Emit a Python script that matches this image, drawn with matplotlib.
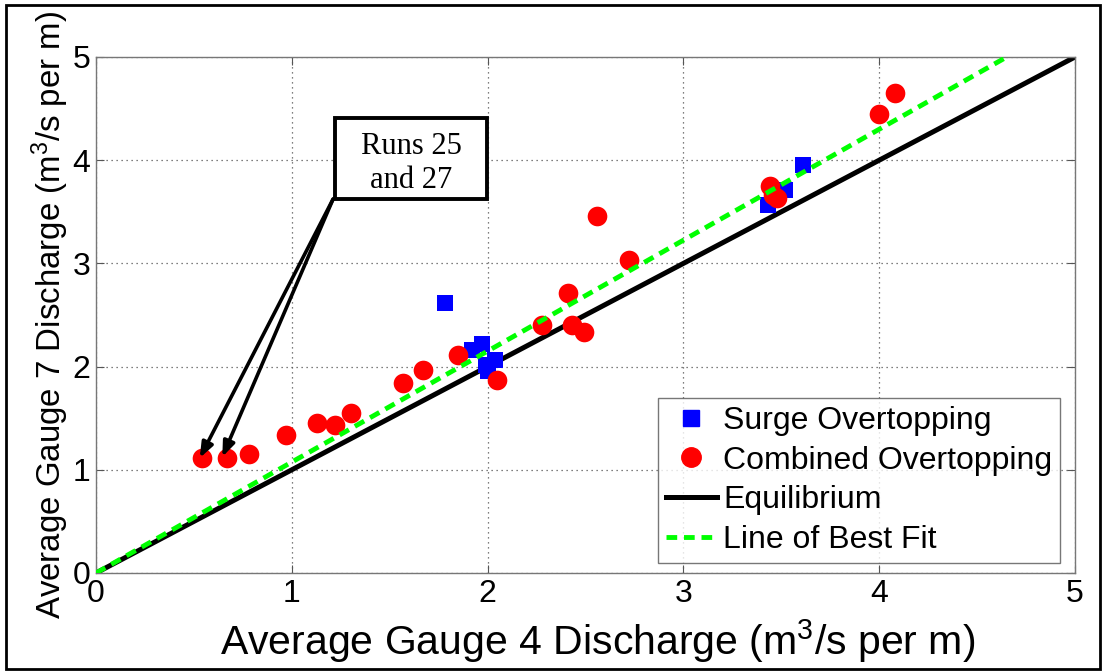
import matplotlib
matplotlib.use("Agg")
import matplotlib.pyplot as plt
from matplotlib.patches import Rectangle
from matplotlib.lines import Line2D

plt.rcParams['font.family'] = ['Liberation Sans', 'DejaVu Sans']
plt.rcParams['mathtext.fontset'] = 'custom'
plt.rcParams['mathtext.rm'] = 'Liberation Sans'
plt.rcParams['mathtext.it'] = 'Liberation Sans'

# Data
surge_x = [1.78, 1.92, 1.97, 2.04, 2.00, 1.99, 3.43, 3.47, 3.52, 3.61]
surge_y = [2.62, 2.16, 2.22, 2.06, 1.96, 2.02, 3.57, 3.63, 3.71, 3.95]
comb_x = [0.54, 0.67, 0.78, 0.97, 1.13, 1.22, 1.30, 1.57, 1.67, 1.85, 2.05,
          2.28, 2.43, 2.49, 2.41, 2.56, 2.72, 3.44, 3.46, 3.48, 4.00, 4.08]
comb_y = [1.11, 1.11, 1.15, 1.34, 1.45, 1.43, 1.55, 1.84, 1.97, 2.11, 1.87,
          2.40, 2.40, 2.34, 2.71, 3.46, 3.03, 3.75, 3.66, 3.63, 4.45, 4.65]
equil_x = [0, 5]
equil_y = [0, 5]
fit_slope = 1.075
fit_x = [0, 5 / fit_slope]
fit_y = [0, 5]
ticks = [0, 1, 2, 3, 4, 5]
annot_text = "Runs 25\nand 27"
annot_targets = [(0.53, 1.115), (0.645, 1.125)]

fig = plt.figure(figsize=(11.04, 6.72), dpi=100)
ax = fig.add_axes([96/1104, 1 - 573/672, (1075-96)/1104, (573-57)/672])

ax.plot(equil_x, equil_y, color='black', lw=3.6, zorder=2, label='Equilibrium')
ax.scatter(surge_x, surge_y, marker='s', s=125, color='#0000ff', lw=0, zorder=3,
           label='Surge Overtopping')
ax.scatter(comb_x, comb_y, marker='o', s=200, color='#ff0000', lw=0, zorder=4,
           label='Combined Overtopping')
ax.plot(fit_x, fit_y, color='#00ff00', lw=3.5, ls=(0, (2.2, 1.4)), zorder=5,
        label='Line of Best Fit')

ax.set_xlim(0, 5)
ax.set_ylim(0, 5)
ax.set_xticks(ticks)
ax.set_yticks(ticks)
ax.tick_params(direction='in', top=True, right=True, labelsize=23, length=6,
               color='#555555', pad=4)
ax.grid(True, ls=(0, (1, 3)), color='#555555', lw=0.9)
for s in ax.spines.values():
    s.set_color('#777777')
    s.set_linewidth(1.0)

ax.set_xlabel(r'Average Gauge 4 Discharge (m$^3$/s per m)', fontsize=29.5, labelpad=6)
ax.xaxis.label.set_x(0.512)
ax.set_ylabel(r'Average Gauge 7 Discharge (m$^3$/s per m)', fontsize=23.8, labelpad=1)

# annotation box
bx0, by0, bx1, by1 = 1.221, 3.624, 1.997, 4.409
ax.add_patch(Rectangle((bx0, by0), bx1 - bx0, by1 - by0, fill=True, facecolor='white',
                       edgecolor='black', lw=2.8, zorder=6))
ax.text((bx0 + bx1) / 2, (by0 + by1) / 2 - 0.05, annot_text, ha='center', va='center',
        fontsize=22, family='Liberation Serif', linespacing=1.2, zorder=7)
for tx, ty in annot_targets:
    ax.annotate('', xy=(tx, ty), xytext=(bx0 - 0.01, by0),
                arrowprops=dict(arrowstyle='-|>,head_length=0.9,head_width=0.35',
                                color='black', lw=2.6, shrinkA=0, shrinkB=0),
                zorder=6)

handles = [
    Line2D([], [], marker='s', color='#0000ff', ls='none', markersize=11),
    Line2D([], [], marker='o', color='#ff0000', ls='none', markersize=14),
    Line2D([], [], color='black', lw=3.6),
    Line2D([], [], color='#00ff00', lw=3.5, ls=(0, (2.2, 1.4))),
]
labels = ['Surge Overtopping', 'Combined Overtopping', 'Equilibrium', 'Line of Best Fit']
leg = ax.legend(handles, labels, loc='lower right', bbox_to_anchor=(0.985, 0.02),
                fontsize=23, frameon=True, fancybox=False, edgecolor='#555555',
                handlelength=1.6, handletextpad=0.2, labelspacing=0.3,
                borderpad=0.25, borderaxespad=0)
leg.get_frame().set_linewidth(1.0)

# outer frame
fig.add_artist(Rectangle((6/1104, 1 - 669/672), (1100-6)/1104, (669-5)/672,
                         transform=fig.transFigure, fill=False, edgecolor='black', lw=2))

fig.savefig('out.png', dpi=100, facecolor='white')
